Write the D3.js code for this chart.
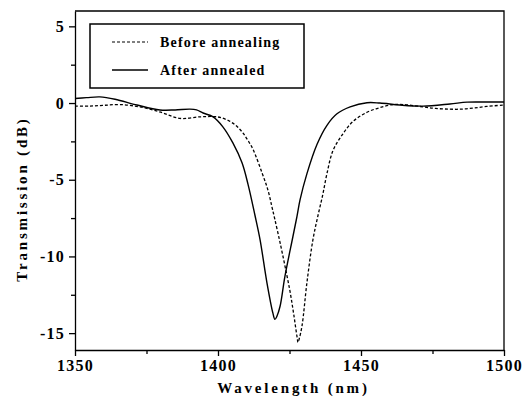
<!DOCTYPE html>
<html>
    <head>
        <meta charset="UTF-8">
        <title>transmission</title>
        <style type="text/css">
            body {
                margin: 0;
                background: #ffffff;
                font-family: "Liberation Serif", "Times New Roman", serif;
            }
            .axis text {
                font-family: "Liberation Serif", serif;
                font-weight: bold;
                font-size: 16px;
                letter-spacing: 1.2px;
                fill: #000;
            }
            .axis path, .axis line {
                stroke: #000;
                stroke-width: 1.3;
            }
            .title {
                font-weight: bold;
                font-size: 15px;
                letter-spacing: 2.8px;
            }
            .leg {
                font-weight: bold;
                font-size: 14px;
                letter-spacing: 1.2px;
            }
        </style>
        <script src="https://d3js.org/d3.v7.min.js"></script>
    </head>
    <body>
        <div id="plot"></div>
        <script>
            // wavelength (nm) and transmission (dB)
            const before_wl = [1350, 1355, 1360, 1365.7, 1372.7, 1380, 1386.7, 1393.7, 1398.3, 1401, 1404.2, 1406.5, 1408.7, 1410.5, 1412.2, 1415.4, 1417.5, 1418.9, 1419.9, 1421.7, 1423.5, 1425.2, 1426.5, 1427.6, 1428, 1428.5, 1429.4, 1431.1, 1433.2, 1435, 1436.6, 1438.1, 1440.2, 1443.7, 1447.2, 1452.1, 1456.6, 1461.2, 1466, 1471.7, 1476, 1481.1, 1485, 1489.2, 1494, 1500];
            const before_db = [-0.2, -0.2, -0.15, -0.1, -0.25, -0.6, -1.0, -0.9, -0.88, -0.95, -1.2, -1.5, -1.95, -2.45, -3.0, -4.55, -5.7, -6.8, -7.6, -9.1, -10.7, -12.3, -13.8, -15.2, -15.6, -15.3, -14.5, -11.7, -8.9, -7.3, -6.0, -4.6, -3.1, -2.0, -1.2, -0.6, -0.3, -0.1, -0.12, -0.25, -0.35, -0.4, -0.4, -0.33, -0.22, -0.13];

            const after_wl = [1350, 1354, 1358.7, 1364, 1371.7, 1379.7, 1385, 1390.2, 1392.5, 1394.8, 1398.3, 1401.7, 1405.2, 1408.4, 1410.5, 1412.9, 1414.7, 1417.1, 1419.2, 1419.9, 1420.6, 1421.7, 1423.4, 1426.2, 1427.6, 1428.7, 1431.1, 1434.6, 1438.1, 1441.6, 1446.2, 1452.1, 1456.6, 1463.6, 1471.7, 1481.1, 1487.1, 1493, 1500];
            const after_db = [0.3, 0.35, 0.4, 0.25, -0.13, -0.45, -0.45, -0.4, -0.45, -0.65, -0.9, -1.55, -2.6, -3.9, -5.3, -7.3, -8.9, -11.7, -13.7, -14.1, -13.9, -13.25, -11.3, -8.7, -7.4, -6.3, -4.6, -2.7, -1.45, -0.7, -0.25, 0.02, 0.0, -0.13, -0.2, -0.06, 0.06, 0.07, 0.07];

            const x_ticks = [1350, 1400, 1450, 1500];
            const x_minor = [1375, 1425, 1475];
            const y_ticks = [5, 0, -5, -10, -15];
            const y_minor = [2.5, -2.5, -7.5, -12.5];
            const legend_labels = ["Before annealing", "After annealed"];

            function Plot () {
                this.width = 527;
                this.height = 399;
                this.left = 75;
                this.right = 504;
                this.top = 11;
                this.bottom = 350;

                this.x = d3.scaleLinear().domain([1350, 1500]).range([this.left, this.right]);
                this.y = d3.scaleLinear().domain([-16.1, 6]).range([this.bottom, this.top]);

                this.init = function () {
                    this.svg = d3.select("#plot")
                        .append("svg")
                        .attr("width", this.width)
                        .attr("height", this.height);

                    this.draw_axes();
                    this.draw_lines();
                    this.draw_legend();
                }

                this.draw_axes = function () {
                    const svg = this.svg;

                    // minor ticks first, no labels
                    svg.append("g").attr("class", "axis")
                        .attr("transform", `translate(0, ${this.bottom})`)
                        .call(d3.axisBottom(this.x).tickValues(x_minor).tickSize(4).tickFormat(""))
                        .select(".domain").remove();
                    svg.append("g").attr("class", "axis")
                        .attr("transform", `translate(${this.left}, 0)`)
                        .call(d3.axisLeft(this.y).tickValues(y_minor).tickSize(4).tickFormat(""))
                        .select(".domain").remove();

                    svg.append("g").attr("class", "axis")
                        .attr("transform", `translate(0, ${this.bottom})`)
                        .call(d3.axisBottom(this.x).tickValues(x_ticks).tickSizeInner(6).tickSizeOuter(0).tickPadding(4).tickFormat(d3.format("d")));
                    svg.append("g").attr("class", "axis")
                        .attr("transform", `translate(${this.left}, 0)`)
                        .call(d3.axisLeft(this.y).tickValues(y_ticks).tickSizeInner(6).tickSizeOuter(0).tickPadding(4).tickFormat(d => d));

                    // top and right frame
                    svg.append("path")
                        .attr("d", `M${this.left},${this.top}H${this.right}V${this.bottom}`)
                        .attr("fill", "none")
                        .attr("stroke", "#000")
                        .attr("stroke-width", 1.3);

                    svg.append("text")
                        .attr("class", "title")
                        .attr("text-anchor", "middle")
                        .attr("x", (this.left + this.right) / 2 + 4)
                        .attr("y", 393)
                        .text("Wavelength (nm)");

                    svg.append("text")
                        .attr("class", "title")
                        .attr("text-anchor", "middle")
                        .attr("transform", `translate(27, 199) rotate(-90)`)
                        .text("Transmission (dB)");
                }

                this.draw_lines = function () {
                    const line = d3.line()
                        .x(d => this.x(d[0]))
                        .y(d => this.y(d[1]))
                        .curve(d3.curveCatmullRom.alpha(0.5));

                    this.svg.append("path")
                        .datum(before_wl.map((w, i) => [w, before_db[i]]))
                        .attr("d", line)
                        .attr("fill", "none")
                        .attr("stroke", "#000")
                        .attr("stroke-width", 1.3)
                        .attr("stroke-dasharray", "3,2");

                    this.svg.append("path")
                        .datum(after_wl.map((w, i) => [w, after_db[i]]))
                        .attr("d", line)
                        .attr("fill", "none")
                        .attr("stroke", "#000")
                        .attr("stroke-width", 1.4);
                }

                this.draw_legend = function () {
                    const g = this.svg.append("g");
                    g.append("rect")
                        .attr("x", 90).attr("y", 24)
                        .attr("width", 214).attr("height", 64)
                        .attr("fill", "#fff")
                        .attr("stroke", "#000")
                        .attr("stroke-width", 1.5);

                    legend_labels.forEach((label, i) => {
                        const yy = 42 + i * 28;
                        g.append("line")
                            .attr("x1", 112).attr("x2", 148)
                            .attr("y1", yy).attr("y2", yy)
                            .attr("stroke", "#000")
                            .attr("stroke-width", i === 0 ? 1.2 : 1.4)
                            .attr("stroke-dasharray", i === 0 ? "3,2" : null);
                        g.append("text")
                            .attr("class", "leg")
                            .attr("x", 160)
                            .attr("y", yy + 5)
                            .text(label);
                    });
                }
            }

            window.onload = function () {
                const plot = new Plot();
                plot.init();
            }
        </script>
    </body>
</html>
